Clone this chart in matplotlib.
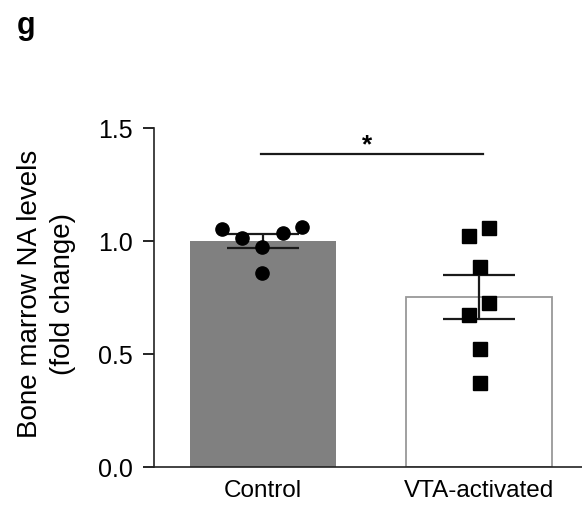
#!/usr/bin/env python3
"""
Bone marrow NA levels, control vs VTA-activated.
"""

import matplotlib
matplotlib.use("Agg")
import matplotlib.pyplot as plt
import numpy as np

plt.rcParams['font.family'] = ['Liberation Sans', 'DejaVu Sans']

groups = ["Control", "VTA-activated"]
control_vals = [1.053, 1.013, 0.973, 0.858, 1.035, 1.062]
control_offsets = [-0.19, -0.097, -0.005, -0.005, 0.093, 0.181]
vta_vals = [1.022, 1.058, 0.885, 0.726, 0.673, 0.522, 0.372]
vta_offsets = [-0.046, 0.046, 0.005, 0.046, -0.046, 0.005, 0.005]
sem = [0.031, 0.098]


def main():
    fig = plt.figure(figsize=(5.82, 5.05), dpi=100)
    ax = fig.add_axes([0.2646, 0.0752, 0.7354, 0.6713])

    means = [np.mean(control_vals), np.mean(vta_vals)]
    x = np.arange(len(groups))

    ax.bar(x[0], means[0], width=0.676, color="#808080", edgecolor="none", zorder=1)
    ax.bar(x[1], means[1], width=0.676, color="white", edgecolor="#999999",
           linewidth=1.3, zorder=1)
    ax.errorbar(x, means, yerr=sem, fmt="none", ecolor="#1a1a1a",
                elinewidth=1.6, capsize=26, capthick=1.6, zorder=2)

    ax.plot(x[0] + np.array(control_offsets), control_vals, "o", color="black",
            markersize=9.5, zorder=3, clip_on=False)
    ax.plot(x[1] + np.array(vta_offsets), vta_vals, "s", color="black",
            markersize=10, zorder=3, clip_on=False)

    # significance bar
    ax.plot([-0.01, 1.02], [1.385, 1.385], color="#1a1a1a", lw=1.6)
    ax.text(0.48, 1.37, "*", ha="center", va="bottom", fontsize=19,
            fontweight="bold")

    ax.set_xlim(-0.505, 1.477)
    ax.set_ylim(0, 1.5)
    ax.set_yticks([0.0, 0.5, 1.0, 1.5])
    ax.set_yticklabels(["0.0", "0.5", "1.0", "1.5"])
    ax.set_xticks(x)
    ax.set_xticklabels(groups)
    ax.tick_params(axis="y", length=8, width=1.2, labelsize=18, pad=7)
    ax.tick_params(axis="x", length=0, labelsize=17.5, pad=9)
    for side in ["top", "right"]:
        ax.spines[side].set_visible(False)
    for side in ["left", "bottom"]:
        ax.spines[side].set_linewidth(1.2)
        ax.spines[side].set_color("#222222")

    ax.set_ylabel("Bone marrow NA levels\n(fold change)", fontsize=20,
                  linespacing=1.35)
    ax.yaxis.set_label_coords(-0.183, 0.51)

    fig.text(0.028, 0.948, "g", fontsize=22, fontweight="bold", va="center")

    fig.savefig("out.png", dpi=100)


if __name__ == '__main__':
    main()
